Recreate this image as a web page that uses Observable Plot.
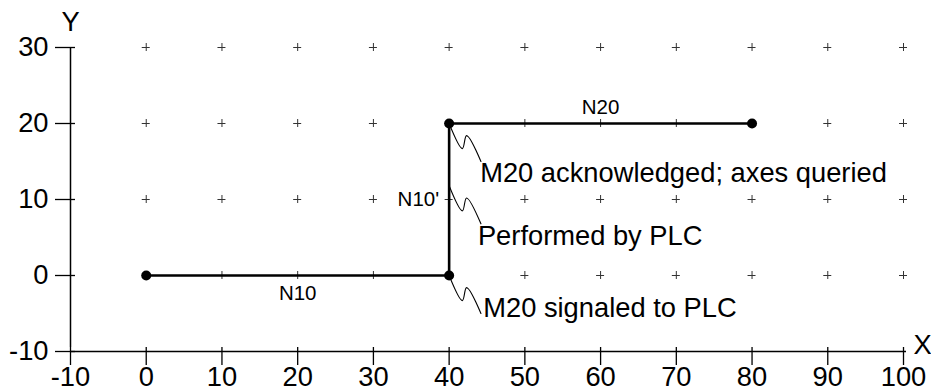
<!DOCTYPE html>
<html>
<head>
<meta charset="utf-8">
<script src="https://cdn.jsdelivr.net/npm/d3@7"></script>
<script src="https://cdn.jsdelivr.net/npm/@observablehq/plot@0.6"></script>
<style>
  html, body { margin: 0; padding: 0; background: #fff; }
  #chart svg { display: block; overflow: visible; }
</style>
</head>
<body>
<div id="chart"></div>
<script>
// ---- data ----
const xTicks = [-10, 0, 10, 20, 30, 40, 50, 60, 70, 80, 90, 100];
const xTickLabels = ["-10", "0", "10", "20", "30", "40", "50", "60", "70", "80", "90", "100"];
const yTicks = [-10, 0, 10, 20, 30];
const yTickLabels = ["-10", "0", "10", "20", "30"];
const gridX = [0, 10, 20, 30, 40, 50, 60, 70, 80, 90, 100];
const gridY = [0, 10, 20, 30];
const pathX = [0, 40, 40, 80];
const pathY = [0, 0, 20, 20];
const segLabels = ["N10", "N10'", "N20"];
const segLabelX = [20, 40, 60];
const segLabelY = [0, 10, 20];
const noteTexts = ["M20 acknowledged; axes queried", "Performed by PLC", "M20 signaled to PLC"];
const noteFromX = [40, 40, 40];
const noteFromY = [20, 11.8, 0];
const noteTextX = [44.1, 43.8, 44.5];
const noteTextY = [13.4, 5.2, -4.3];
const leaderDX = [0, 1.75, 2.3, 4.2];
const leaderDY = [0, -3.3, -1.6, -5.0];
const axisNames = ["X", "Y"];

// ---- derived tables ----
const xMin = xTicks[0], xMax = xTicks[xTicks.length - 1];
const yMin = yTicks[0], yMax = yTicks[yTicks.length - 1];
const grid = d3.cross(gridX, gridY);
const path = pathX.map((x, i) => ({x, y: pathY[i]}));
const segs = segLabels.map((t, i) => ({t, x: segLabelX[i], y: segLabelY[i]}));
const leaders = [];
noteTexts.forEach((t, k) => {
  leaderDX.forEach((dx, j) => leaders.push({id: k, x: noteFromX[k] + dx, y: noteFromY[k] + leaderDY[j]}));
});
const notes = noteTexts.map((t, i) => ({t, x: noteTextX[i], y: noteTextY[i]}));

const FONT = "'Liberation Sans', Arial, Helvetica, sans-serif";
const BIG = 27.3;
const SMALL = 20.5;

const chart = Plot.plot({
  width: 931,
  height: 391,
  marginLeft: 70,
  marginRight: 28,
  marginTop: 47,
  marginBottom: 40,
  x: {domain: [xMin, xMax], axis: null},
  y: {domain: [yMin, yMax], axis: null},
  style: {fontFamily: FONT, background: "#fff", color: "#000"},
  marks: [
    // grid "+" marks
    Plot.ruleX(grid, {x: d => d[0], y1: d => d[1], y2: d => d[1], insetTop: -4, insetBottom: -4, stroke: "#333", strokeWidth: 1}),
    Plot.ruleY(grid, {y: d => d[1], x1: d => d[0], x2: d => d[0], insetLeft: -4, insetRight: -4, stroke: "#333", strokeWidth: 1}),
    // axis lines
    Plot.ruleY([yMin], {y: d => d, x1: () => xMin, x2: () => xMax, insetRight: -3, stroke: "#000", strokeWidth: 1.5}),
    Plot.ruleX([xMin], {x: d => d, y1: () => yMin, y2: () => yMax, insetTop: -4, stroke: "#000", strokeWidth: 1.5}),
    // axis ticks
    Plot.ruleX(xTicks, {x: d => d, y1: () => yMin, y2: () => yMin, insetTop: -4, insetBottom: -14, stroke: "#000", strokeWidth: 1.3}),
    Plot.ruleY(yTicks, {y: d => d, x1: () => xMin, x2: () => xMin, insetLeft: -15, insetRight: -5, stroke: "#000", strokeWidth: 1.3}),
    // tick labels
    Plot.text(xTicks, {x: d => d, y: () => yMin, text: (d, i) => xTickLabels[i], dy: 25.5, fontSize: BIG, fill: "#000"}),
    Plot.text(yTicks, {y: d => d, x: () => xMin, text: (d, i) => yTickLabels[i], dx: -22, textAnchor: "end", fontSize: BIG, fill: "#000"}),
    // axis names
    Plot.text([axisNames[0]], {x: () => xMax, y: () => yMin, text: d => d, dx: 10, dy: -6, textAnchor: "start", fontSize: BIG, fill: "#000"}),
    Plot.text([axisNames[1]], {x: () => xMin, y: () => yMax, text: d => d, dy: -25, fontSize: BIG, fill: "#000"}),
    // tool path
    Plot.line(path, {x: "x", y: "y", stroke: "#000", strokeWidth: 2.6}),
    Plot.dot(path, {x: "x", y: "y", r: 5, fill: "#000", stroke: "none"}),
    // segment labels
    Plot.text(segs.filter(d => d.t === segLabels[0]), {x: "x", y: "y", text: "t", dy: 18, fontSize: SMALL, fill: "#000"}),
    Plot.text(segs.filter(d => d.t === segLabels[1]), {x: "x", y: "y", text: "t", dx: -10, textAnchor: "end", fontSize: SMALL, fill: "#000"}),
    Plot.text(segs.filter(d => d.t === segLabels[2]), {x: "x", y: "y", text: "t", dy: -16, fontSize: SMALL, fill: "#000"}),
    // leaders
    Plot.line(leaders, {x: "x", y: "y", z: "id", stroke: "#000", strokeWidth: 1.1, curve: "catmull-rom"}),
    Plot.text(notes, {x: "x", y: "y", text: "t", textAnchor: "start", fontSize: BIG, fill: "#000"})
  ]
});

document.getElementById("chart").appendChild(chart);
</script>
</body>
</html>
